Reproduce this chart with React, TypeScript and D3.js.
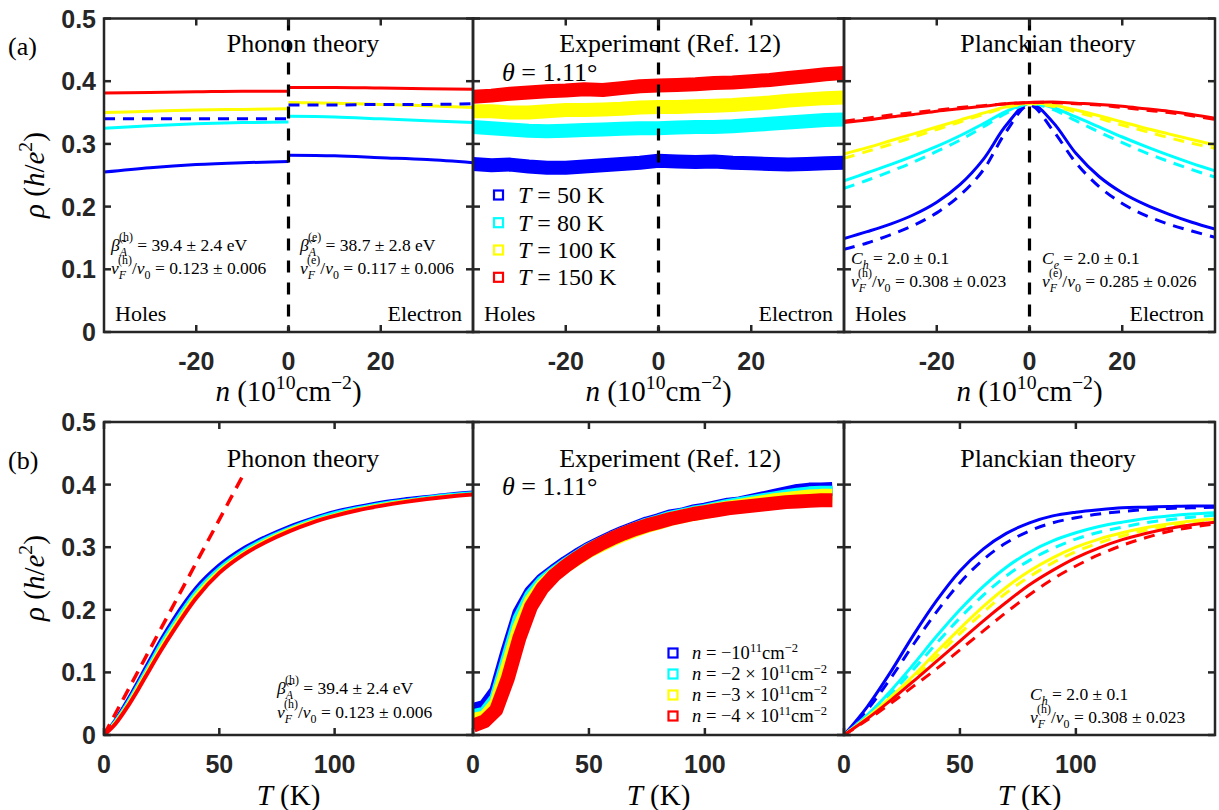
import React from "react";
import * as d3 from "d3";

// ---------- DATA ----------
const colors = ["#0000ff", "#00ffff", "#ffff00", "#ff0000"];
const tempLabels = ["50", "80", "100", "150"];
const densityLabels = ["−10", "−2 × 10", "−3 × 10", "−4 × 10"];

// Top-left: phonon theory vs n (solid), holes and electron branches
const phHolesN = [-40, -30, -20, -10, 0];
const phElecN = [0, 10, 20, 30, 40];
const phHoles = [
  [0.255, 0.262, 0.267, 0.27, 0.272],
  [0.325, 0.329, 0.332, 0.334, 0.335],
  [0.35, 0.352, 0.354, 0.355, 0.356],
  [0.381, 0.382, 0.383, 0.384, 0.384],
];
const phElec = [
  [0.282, 0.281, 0.278, 0.275, 0.27],
  [0.344, 0.343, 0.34, 0.337, 0.334],
  [0.366, 0.365, 0.363, 0.361, 0.358],
  [0.39, 0.39, 0.389, 0.388, 0.387],
];
const phHolesDashBlue = [0.34, 0.34, 0.34, 0.34, 0.34];
const phElecDashBlue = [0.362, 0.362, 0.363, 0.363, 0.364];

// Top-middle: experiment vs n
const expN = [-40, -36, -32, -28, -24, -20, -16, -12, -8, -4, 0, 4, 8, 12, 16, 20, 24, 28, 32, 36, 40];
const expRhoN = [
  [0.268, 0.266, 0.267, 0.264, 0.262, 0.262, 0.264, 0.266, 0.268, 0.27, 0.273, 0.272, 0.271, 0.272, 0.27, 0.269, 0.268, 0.267, 0.268, 0.269, 0.27],
  [0.327, 0.325, 0.323, 0.321, 0.32, 0.321, 0.322, 0.323, 0.324, 0.325, 0.325, 0.326, 0.327, 0.327, 0.328, 0.33, 0.332, 0.334, 0.336, 0.338, 0.339],
  [0.352, 0.352, 0.35, 0.35, 0.352, 0.354, 0.354, 0.355, 0.356, 0.358, 0.359, 0.359, 0.36, 0.361, 0.362, 0.364, 0.366, 0.369, 0.371, 0.373, 0.374],
  [0.375, 0.377, 0.38, 0.382, 0.384, 0.385, 0.387, 0.386, 0.389, 0.392, 0.393, 0.394, 0.395, 0.397, 0.398, 0.4, 0.402, 0.405, 0.408, 0.411, 0.413],
];

// Top-right: Planckian theory vs n (solid and dashed)
const plN = [-40, -35, -30, -25, -20, -15, -10, -5, 0, 5, 10, 15, 20, 25, 30, 35, 40];
const plSolidN = [
  [0.149, 0.16, 0.172, 0.187, 0.207, 0.235, 0.275, 0.33, 0.365, 0.335, 0.285, 0.248, 0.222, 0.203, 0.188, 0.175, 0.164],
  [0.241, 0.254, 0.267, 0.281, 0.296, 0.313, 0.332, 0.352, 0.365, 0.358, 0.343, 0.327, 0.311, 0.296, 0.282, 0.269, 0.257],
  [0.284, 0.294, 0.305, 0.316, 0.327, 0.338, 0.349, 0.359, 0.365, 0.362, 0.354, 0.345, 0.335, 0.325, 0.316, 0.307, 0.298],
  [0.334, 0.338, 0.343, 0.347, 0.352, 0.356, 0.36, 0.364, 0.366, 0.367, 0.365, 0.363, 0.36, 0.356, 0.352, 0.347, 0.341],
];
const plDashN = [
  [0.132, 0.142, 0.155, 0.17, 0.19, 0.218, 0.258, 0.32, 0.362, 0.322, 0.27, 0.232, 0.205, 0.186, 0.172, 0.161, 0.151],
  [0.229, 0.242, 0.256, 0.271, 0.288, 0.306, 0.327, 0.349, 0.364, 0.355, 0.337, 0.319, 0.302, 0.286, 0.272, 0.259, 0.247],
  [0.277, 0.288, 0.299, 0.311, 0.323, 0.335, 0.347, 0.358, 0.364, 0.36, 0.351, 0.341, 0.33, 0.32, 0.31, 0.301, 0.293],
  [0.336, 0.341, 0.346, 0.35, 0.354, 0.358, 0.361, 0.364, 0.366, 0.366, 0.364, 0.362, 0.358, 0.354, 0.35, 0.345, 0.339],
];

// Bottom-left: phonon theory vs T
const phT = [0, 5, 10, 15, 20, 25, 30, 40, 50, 60, 70, 80, 90, 100, 110, 120, 130, 140, 150, 160];
const phRhoT = [
  [0, 0.025, 0.055, 0.088, 0.122, 0.155, 0.185, 0.236, 0.272, 0.298, 0.317, 0.333, 0.346, 0.357, 0.365, 0.372, 0.377, 0.381, 0.385, 0.388],
  [0, 0.023, 0.051, 0.083, 0.116, 0.149, 0.178, 0.230, 0.267, 0.294, 0.314, 0.330, 0.344, 0.355, 0.363, 0.370, 0.375, 0.380, 0.384, 0.387],
  [0, 0.021, 0.048, 0.079, 0.111, 0.143, 0.172, 0.225, 0.263, 0.290, 0.311, 0.328, 0.341, 0.352, 0.361, 0.368, 0.374, 0.378, 0.382, 0.385],
  [0, 0.018, 0.044, 0.074, 0.106, 0.137, 0.166, 0.219, 0.259, 0.287, 0.308, 0.325, 0.339, 0.35, 0.359, 0.366, 0.372, 0.377, 0.381, 0.384],
];
const phLinT = [0, 60];
const phLinRho = [0, 0.413];

// Bottom-middle: experiment vs T
const expT = [0, 5, 10, 15, 20, 25, 30, 35, 40, 45, 50, 55, 60, 65, 70, 75, 80, 85, 90, 95, 100, 105, 110, 115, 120, 125, 130, 135, 140, 145, 150, 155];
const expRhoT = [
  [0.04, 0.045, 0.07, 0.135, 0.195, 0.228, 0.248, 0.262, 0.275, 0.287, 0.298, 0.307, 0.316, 0.324, 0.331, 0.338, 0.343, 0.349, 0.352, 0.357, 0.36, 0.364, 0.368, 0.37, 0.374, 0.378, 0.382, 0.386, 0.39, 0.392, 0.392, 0.393],
  [0.03, 0.034, 0.058, 0.122, 0.185, 0.222, 0.244, 0.259, 0.272, 0.284, 0.296, 0.305, 0.314, 0.322, 0.329, 0.336, 0.341, 0.347, 0.351, 0.355, 0.358, 0.362, 0.366, 0.369, 0.372, 0.375, 0.378, 0.381, 0.384, 0.386, 0.387, 0.387],
  [0.024, 0.028, 0.05, 0.11, 0.172, 0.214, 0.239, 0.256, 0.27, 0.282, 0.294, 0.303, 0.312, 0.32, 0.327, 0.334, 0.339, 0.345, 0.349, 0.353, 0.356, 0.36, 0.363, 0.366, 0.369, 0.372, 0.375, 0.377, 0.379, 0.381, 0.382, 0.382],
  [0.015, 0.022, 0.04, 0.09, 0.155, 0.205, 0.235, 0.255, 0.27, 0.283, 0.295, 0.305, 0.314, 0.322, 0.329, 0.335, 0.34, 0.345, 0.349, 0.353, 0.356, 0.359, 0.362, 0.364, 0.366, 0.368, 0.37, 0.372, 0.373, 0.374, 0.375, 0.375],
];

// Bottom-right: Planckian theory vs T
const plT = [0, 10, 20, 30, 40, 50, 60, 70, 80, 90, 100, 110, 120, 130, 140, 150, 160];
const plSolidT = [
  [0, 0.045, 0.1, 0.16, 0.215, 0.262, 0.297, 0.322, 0.339, 0.35, 0.356, 0.36, 0.363, 0.364, 0.365, 0.366, 0.366],
  [0, 0.032, 0.07, 0.113, 0.158, 0.2, 0.237, 0.268, 0.292, 0.31, 0.323, 0.333, 0.34, 0.346, 0.35, 0.353, 0.355],
  [0, 0.028, 0.06, 0.095, 0.133, 0.17, 0.205, 0.236, 0.262, 0.283, 0.3, 0.313, 0.323, 0.331, 0.337, 0.342, 0.345],
  [0, 0.026, 0.055, 0.086, 0.118, 0.15, 0.182, 0.212, 0.24, 0.263, 0.283, 0.299, 0.312, 0.322, 0.33, 0.336, 0.34],
];
const plDashT = [
  [0, 0.04, 0.09, 0.145, 0.197, 0.243, 0.28, 0.307, 0.326, 0.339, 0.347, 0.353, 0.357, 0.36, 0.362, 0.363, 0.364],
  [0, 0.03, 0.065, 0.105, 0.147, 0.187, 0.223, 0.254, 0.279, 0.298, 0.313, 0.324, 0.332, 0.339, 0.344, 0.348, 0.351],
  [0, 0.026, 0.056, 0.09, 0.126, 0.162, 0.196, 0.227, 0.253, 0.275, 0.293, 0.307, 0.318, 0.327, 0.334, 0.339, 0.343],
  [0, 0.024, 0.05, 0.078, 0.106, 0.136, 0.166, 0.196, 0.224, 0.249, 0.27, 0.288, 0.303, 0.315, 0.325, 0.332, 0.337],
];

const yTicks = [0, 0.1, 0.2, 0.3, 0.4, 0.5];
const nTicks = [-20, 0, 20];
const tTicks = [0, 50, 100];
const titles = ["Phonon theory", "Experiment (Ref. 12)", "Planckian theory"];

// ---------- LAYOUT ----------
const COLS: [number, number][] = [[104, 473], [473, 844], [844, 1215]];
const TOP: [number, number] = [332, 18.5];
const BOT: [number, number] = [735, 422];
const FRAME = "#262626";
const SERIF = "'Liberation Serif', 'Times New Roman', serif";
const SANS = "'Liberation Sans', Arial, sans-serif";

type Seg = { t: string; i?: boolean; s?: "sub" | "sup" | "hsup"; dx?: number };

function Rich({ x, y, size, segs, anchor = "start", rot }: { x: number; y: number; size: number; segs: Seg[]; anchor?: string; rot?: number }) {
  let cur = 0;
  return (
    <text x={x} y={y} fontSize={size} fontFamily={SERIF} textAnchor={anchor} fill="#000" style={{ whiteSpace: "pre" }}
      transform={rot ? `rotate(${rot},${x},${y})` : undefined}>
      {segs.map((sg, k) => {
        const target = sg.s === "sup" ? -0.4 * size : sg.s === "hsup" ? -0.55 * size : sg.s === "sub" ? 0.3 * size : 0;
        const dy = target - cur;
        cur = target;
        return (
          <tspan key={k} dy={dy} dx={sg.dx} fontStyle={sg.i ? "italic" : undefined} fontSize={sg.s ? size * 0.68 : undefined}>
            {sg.t}
          </tspan>
        );
      })}
    </text>
  );
}

function Frame({ x0, x1, y, xTicks, xs }: { x0: number; x1: number; y: d3.ScaleLinear<number, number>; xTicks: number[]; xs: d3.ScaleLinear<number, number> }) {
  const [yb, yt] = y.range();
  const L = 7;
  return (
    <g stroke={FRAME} strokeWidth={2.5} fill="none">
      <rect x={x0} y={yt} width={x1 - x0} height={yb - yt} />
      {yTicks.map((t) => (
        <g key={t}>
          <line x1={x0} x2={x0 + L} y1={y(t)} y2={y(t)} />
          <line x1={x1} x2={x1 - L} y1={y(t)} y2={y(t)} />
        </g>
      ))}
      {xTicks.map((t) => (
        <g key={t}>
          <line x1={xs(t)} x2={xs(t)} y1={yb} y2={yb - L} />
          <line x1={xs(t)} x2={xs(t)} y1={yt} y2={yt + L} />
        </g>
      ))}
    </g>
  );
}

export default function App() {
  const yTop = d3.scaleLinear().domain([0, 0.5]).range(TOP);
  const yBot = d3.scaleLinear().domain([0, 0.5]).range(BOT);
  const nx = COLS.map((c) => d3.scaleLinear().domain([-40, 40]).range(c));
  const tx = COLS.map((c) => d3.scaleLinear().domain([0, 160]).range(c));

  const path = (xs: number[], ys: number[], sx: any, sy: any, curve: any = d3.curveMonotoneX) =>
    d3.line<number>().x((_, i) => sx(xs[i])).y((v) => sy(v)).curve(curve)(ys) || "";

  const sol = (d: string, c: string, w = 3, key?: any) => (
    <path key={key} d={d} stroke={c} strokeWidth={w} fill="none" />
  );
  const dash = (d: string, c: string, w = 3, key?: any, da = "11 8") => (
    <path key={key} d={d} stroke={c} strokeWidth={w} fill="none" strokeDasharray={da} />
  );

  const AS = 17.5;
  const vfLine = (x: number, y: number, lab: string, val: string) => (
    <Rich x={x} y={y} size={AS}
      segs={[{ t: "v", i: true }, { t: "F", i: true, s: "sub" }, { t: `(${lab})`, s: "hsup", dx: -8 }, { t: "/" }, { t: "v", i: true }, { t: "0", s: "sub" }, { t: " = " + val }]} />
  );
  const betaLine = (x: number, y: number, lab: string, val: string) => (
    <Rich x={x} y={y} size={AS}
      segs={[{ t: "β̃", i: true }, { t: "A", i: true, s: "sub" }, { t: `(${lab})`, s: "hsup", dx: -8 }, { t: " = " + val }]} />
  );
  const cLine = (x: number, y: number, lab: string, val: string) => (
    <Rich x={x} y={y} size={AS} segs={[{ t: "C", i: true }, { t: lab, i: true, s: "sub" }, { t: " = " + val }]} />
  );

  return (
    <svg width={1219} height={810} style={{ position: "absolute", left: 0, top: 0, background: "#fff" }}>
      <defs>
        {COLS.map((c, i) => (
          <React.Fragment key={i}>
            <clipPath id={`ct${i}`}><rect x={c[0]} y={TOP[1]} width={c[1] - c[0]} height={TOP[0] - TOP[1]} /></clipPath>
            <clipPath id={`cb${i}`}><rect x={c[0]} y={BOT[1]} width={c[1] - c[0]} height={BOT[0] - BOT[1]} /></clipPath>
          </React.Fragment>
        ))}
      </defs>

      {/* ---------- TOP ROW ---------- */}
      <g clipPath="url(#ct0)">
        {[0, 1, 2, 3].map((k) => sol(path(phHolesN, phHoles[k], nx[0], yTop), colors[k], 3, "h" + k))}
        {[0, 1, 2, 3].map((k) => sol(path(phElecN, phElec[k], nx[0], yTop), colors[k], 3, "e" + k))}
        {dash(path(phHolesN, phHolesDashBlue, nx[0], yTop), colors[0], 3, "hd")}
        {dash(path(phElecN, phElecDashBlue, nx[0], yTop), colors[0], 3, "ed")}
      </g>
      <g clipPath="url(#ct1)">
        {[0, 1, 2, 3].map((k) => (
          <path key={k} d={path(expN, expRhoN[k], nx[1], yTop, d3.curveLinear)} stroke={colors[k]} strokeWidth={14} fill="none" strokeLinejoin="round" />
        ))}
      </g>
      <g clipPath="url(#ct2)">
        {[0, 1, 2, 3].map((k) => (
          <React.Fragment key={k}>
            {sol(path(plN, plSolidN[k], nx[2], yTop, d3.curveCatmullRom), colors[k], 3)}
            {dash(path(plN, plDashN[k], nx[2], yTop, d3.curveCatmullRom), colors[k], 3)}
          </React.Fragment>
        ))}
      </g>
      {[0, 1, 2].map((i) => (
        <line key={i} x1={nx[i](0)} x2={nx[i](0)} y1={TOP[1]} y2={TOP[0]} stroke="#000" strokeWidth={3.2} strokeDasharray="12 10" />
      ))}
      {[0, 1, 2].map((i) => <Frame key={i} x0={COLS[i][0]} x1={COLS[i][1]} y={yTop} xTicks={nTicks} xs={nx[i]} />)}

      {/* ---------- BOTTOM ROW ---------- */}
      <g clipPath="url(#cb0)">
        {[0, 1, 2, 3].map((k) => sol(path(phT, phRhoT[k], tx[0], yBot), colors[k], k === 3 ? 4 : 3, "p" + k))}
        {dash(path(phLinT, phLinRho, tx[0], yBot, d3.curveLinear), colors[3], 3.5, "lin", "12 8")}
      </g>
      <g clipPath="url(#cb1)">
        {[0, 1, 2, 3].map((k) => (
          <path key={k} d={path(expT, expRhoT[k], tx[1], yBot, d3.curveLinear)} stroke={colors[k]} strokeWidth={14} fill="none" strokeLinejoin="round" />
        ))}
      </g>
      <g clipPath="url(#cb2)">
        {[0, 1, 2, 3].map((k) => (
          <React.Fragment key={k}>
            {sol(path(plT, plSolidT[k], tx[2], yBot), colors[k], 3)}
            {dash(path(plT, plDashT[k], tx[2], yBot), colors[k], 3)}
          </React.Fragment>
        ))}
      </g>
      {[0, 1, 2].map((i) => <Frame key={i} x0={COLS[i][0]} x1={COLS[i][1]} y={yBot} xTicks={tTicks} xs={tx[i]} />)}

      {/* ---------- TICK LABELS ---------- */}
      <g fontFamily={SANS} fontWeight="bold" fontSize={25} fill={FRAME}>
        {yTicks.map((t) => (
          <React.Fragment key={t}>
            <text x={96} y={yTop(t)} dy="0.36em" textAnchor="end">{t === 0 ? "0" : t.toFixed(1)}</text>
            <text x={96} y={yBot(t)} dy="0.36em" textAnchor="end">{t === 0 ? "0" : t.toFixed(1)}</text>
          </React.Fragment>
        ))}
        {[0, 1, 2].map((i) => nTicks.map((t) => (
          <text key={`n${i}${t}`} x={nx[i](t)} y={370} textAnchor="middle">{t < 0 ? "-" + Math.abs(t) : String(t)}</text>
        )))}
        {[0, 1, 2].map((i) => tTicks.map((t) => (
          <text key={`t${i}${t}`} x={tx[i](t)} y={773} textAnchor="middle">{String(t)}</text>
        )))}
      </g>

      {/* ---------- AXIS LABELS ---------- */}
      {[175, 578].map((cy, r) => (
        <Rich key={r} x={44} y={cy} size={29} anchor="middle" rot={-90}
          segs={[{ t: "ρ", i: true }, { t: " (" }, { t: "h", i: true }, { t: "/" }, { t: "e", i: true }, { t: "2", s: "sup" }, { t: ")" }]} />
      ))}
      {[0, 1, 2].map((i) => (
        <Rich key={"xl" + i} x={(COLS[i][0] + COLS[i][1]) / 2} y={401} size={29} anchor="middle"
          segs={[{ t: "n", i: true }, { t: " (10" }, { t: "10", s: "sup" }, { t: "cm" }, { t: "−2", s: "sup" }, { t: ")" }]} />
      ))}
      {[0, 1, 2].map((i) => (
        <Rich key={"tl" + i} x={(COLS[i][0] + COLS[i][1]) / 2} y={805} size={29} anchor="middle"
          segs={[{ t: "T", i: true }, { t: " (K)" }]} />
      ))}

      {/* ---------- TITLES ---------- */}
      {[303, 670, 1048].map((cx, i) => (
        <React.Fragment key={"tt" + i}>
          <text x={cx} y={52} fontFamily={SERIF} fontSize={26} textAnchor="middle">{titles[i]}</text>
          <text x={cx} y={467} fontFamily={SERIF} fontSize={26} textAnchor="middle">{titles[i]}</text>
        </React.Fragment>
      ))}
      <text x={8} y={55} fontFamily={SERIF} fontSize={26}>(a)</text>
      <text x={8} y={469} fontFamily={SERIF} fontSize={26}>(b)</text>

      <Rich x={502} y={81} size={26} segs={[{ t: "θ", i: true }, { t: " = 1.11°" }]} />
      <Rich x={502} y={495} size={26} segs={[{ t: "θ", i: true }, { t: " = 1.11°" }]} />

      {/* ---------- LEGENDS ---------- */}
      {[195, 222.7, 250, 277.3].map((y, k) => (
        <g key={"lt" + k}>
          <rect x={494} y={y - 4.5} width={9} height={9} fill="none" stroke={colors[k]} strokeWidth={2.2} />
          <Rich x={518} y={y + 8} size={24} segs={[{ t: "T", i: true }, { t: ` = ${tempLabels[k]} K` }]} />
        </g>
      ))}
      {[653, 674, 695, 716].map((y, k) => (
        <g key={"lb" + k}>
          <rect x={668.5} y={y - 4.5} width={9} height={9} fill="none" stroke={colors[k]} strokeWidth={2.2} />
          <Rich x={692} y={y + 6} size={18.5}
            segs={[{ t: "n", i: true }, { t: ` = ${densityLabels[k]}` }, { t: "11", s: "sup" }, { t: "cm" }, { t: "−2", s: "sup" }]} />
        </g>
      ))}

      {/* ---------- ANNOTATIONS ---------- */}
      {betaLine(111, 251, "h", "39.4 ± 2.4 eV")}
      {vfLine(111, 274, "h", "0.123 ± 0.006")}
      {betaLine(300, 251, "e", "38.7 ± 2.8 eV")}
      {vfLine(300, 274, "e", "0.117 ± 0.006")}

      {cLine(851, 264, "h", "2.0 ± 0.1")}
      {vfLine(851, 287, "h", "0.308 ± 0.023")}
      {cLine(1042, 264, "e", "2.0 ± 0.1")}
      {vfLine(1042, 287, "e", "0.285 ± 0.026")}

      {betaLine(277, 694, "h", "39.4 ± 2.4 eV")}
      {vfLine(277, 718, "h", "0.123 ± 0.006")}
      {cLine(1030, 700, "h", "2.0 ± 0.1")}
      {vfLine(1030, 723, "h", "0.308 ± 0.023")}

      {[0, 1, 2].map((i) => (
        <React.Fragment key={"he" + i}>
          <text x={COLS[i][0] + 11} y={321} fontFamily={SERIF} fontSize={22}>Holes</text>
          <text x={COLS[i][1] - 11} y={321} fontFamily={SERIF} fontSize={22} textAnchor="end">Electron</text>
        </React.Fragment>
      ))}
    </svg>
  );
}
